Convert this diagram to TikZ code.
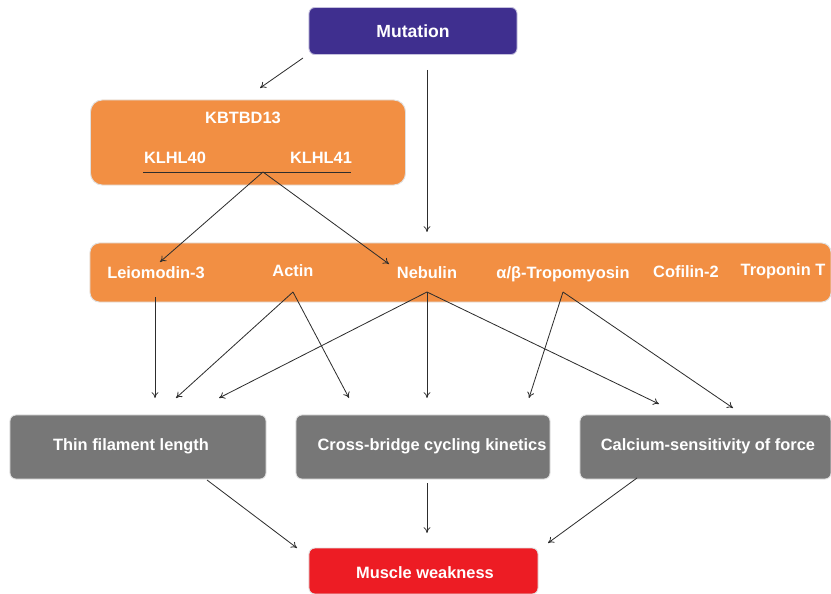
\documentclass[tikz,border=0pt]{standalone}
\usepackage{fontspec}
\setmainfont{Liberation Sans}
\usepackage{tikz}
\usetikzlibrary{arrows.meta}

\definecolor{mutblue}{RGB}{63,47,143}
\definecolor{protorange}{RGB}{242,143,67}
\definecolor{effgrey}{RGB}{119,119,119}
\definecolor{weakred}{RGB}{237,28,36}
\definecolor{arrowgrey}{RGB}{45,45,45}

\begin{document}
\begin{tikzpicture}[x=0.03cm, y=-0.03cm,
  box/.style={rounded corners=5pt, draw=black!12, line width=0.8pt, inner sep=0pt},
  lbl/.style={text=white, font=\fontsize{14}{16}\selectfont\bfseries},
  arr/.style={draw=arrowgrey, line width=0.7pt, -{To[length=5pt,width=6pt]}}]

\useasboundingbox (0,0) rectangle (831,594);

% boxes
\node[box, fill=mutblue, draw=mutblue!30, minimum width=6.24cm, minimum height=1.41cm,
      lbl, font=\fontsize{15}{17}\selectfont\bfseries] (mut) at (413,31) {Mutation};
\node[box, rounded corners=10pt, fill=protorange, minimum width=9.45cm, minimum height=2.55cm] (kb) at (248,142.5) {};
\node[box, rounded corners=8pt, fill=protorange, minimum width=22.23cm, minimum height=1.77cm] (bar) at (460.5,272.5) {};
\node[box, fill=effgrey, minimum width=7.68cm, minimum height=1.92cm] (thin) at (138,447) {};
\node[box, fill=effgrey, minimum width=7.62cm, minimum height=1.92cm] (cross) at (423,447) {};
\node[box, fill=effgrey, minimum width=7.53cm, minimum height=1.92cm] (calc) at (705.5,447) {};
\node[box, fill=weakred, minimum width=6.87cm, minimum height=1.38cm] (weak) at (423.5,571) {};

% texts
\node[lbl] (kbtbd) at (243,118) {KBTBD13};
\node[lbl] (klhl40) at (175,158) {KLHL40};
\node[lbl] (klhl41) at (321,158) {KLHL41};
\draw[arrowgrey, line width=0.8pt] (143,172) -- (351,172);
\node[lbl] (lei) at (156,273) {Leiomodin-3};
\node[lbl] (act) at (293,271) {Actin};
\node[lbl] (neb) at (427,273) {Nebulin};
\node[lbl] (tro) at (563,274) {α/β-Tropomyosin};
\node[lbl] (cof) at (686,272) {Cofilin-2};
\node[lbl] (trt) at (783,271) {Troponin T};
\node[lbl] (thintxt) at (131,446) {Thin filament length};
\node[lbl] (crosstxt) at (432,446) {Cross-bridge cycling kinetics};
\node[lbl] (calctxt) at (708,446) {Calcium-sensitivity of force};
\node[lbl] (weaktxt) at (425,573) {Muscle weakness};

% arrow ends
\coordinate (kbj) at (263,172);
\coordinate (actb) at (293,292);
\coordinate (nebb) at (427,292);
\coordinate (trob) at (563,292);

\draw[arr] (303,58) -- (260,88);
\draw[arr] (427,70) -- (427,232);
\draw[arr] (kbj) -- (160,262);
\draw[arr] (kbj) -- (389,264);

\draw[arr] (155,297) -- (155,398);
\draw[arr] (actb) -- (176,398);
\draw[arr] (actb) -- (349,398);
\draw[arr] (nebb) -- (219,398);
\draw[arr] (nebb) -- (427,398);
\draw[arr] (nebb) -- (659,404);
\draw[arr] (trob) -- (529,398);
\draw[arr] (trob) -- (733,408);

\draw[arr] (207,480) -- (297,548);
\draw[arr] (427,483) -- (427,533);
\draw[arr] (637,478) -- (548,543);

\end{tikzpicture}
\end{document}
